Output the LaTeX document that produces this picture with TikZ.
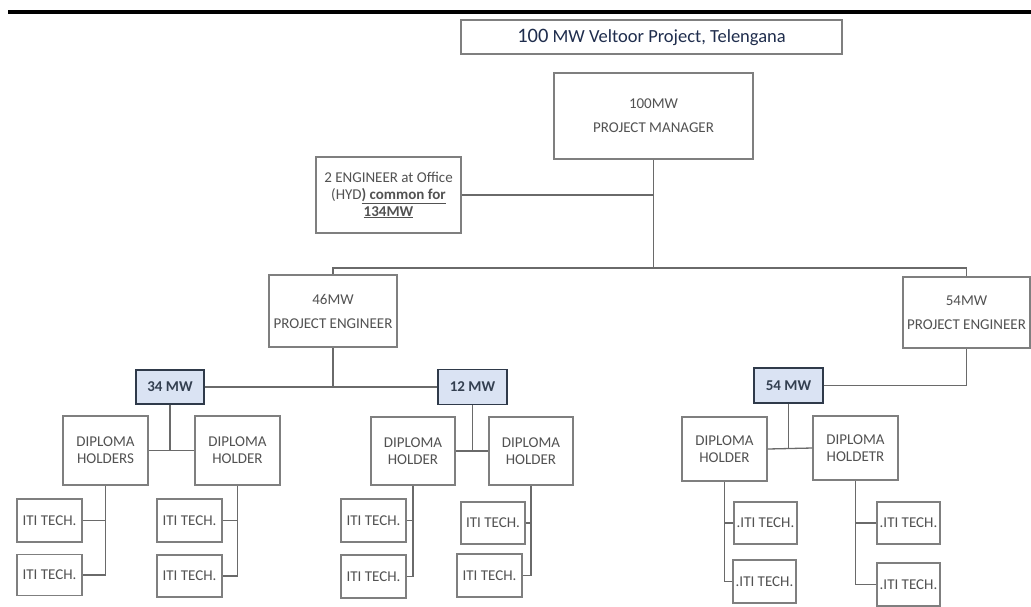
\documentclass[tikz,border=0pt]{standalone}
\usepackage{fontspec}
\setmainfont{Carlito}
\definecolor{boxgray}{HTML}{7F7F7F}
\definecolor{linegray}{HTML}{6A6A6A}
\definecolor{txtgray}{HTML}{525252}
\definecolor{titlenavy}{HTML}{1F2D4D}
\definecolor{mwfill}{HTML}{DAE3F3}
\definecolor{mwborder}{HTML}{2F3A4A}
\definecolor{mwtext}{HTML}{333F50}
\tikzset{
  box/.style={draw=boxgray, line width=1.3pt, fill=white, text=txtgray,
    align=center, inner sep=0pt, font=\fontsize{15}{17}\selectfont},
  tallbox/.style={box, font=\fontsize{15}{24}\selectfont},
  titlebox/.style={box, text=titlenavy, font=\fontsize{18.5}{22}\selectfont},
  mwbox/.style={box, fill=mwfill, draw=mwborder, text=mwtext,
    font=\fontsize{15}{17}\selectfont\bfseries},
  itibox/.style={box, minimum width=65pt, minimum height=43pt},
  dhbox/.style={box, minimum width=85pt},
  link/.style={draw=linegray, line width=1.3pt}
}
\begin{document}
\begin{tikzpicture}[x=1pt,y=-1pt]
\useasboundingbox (0,0) rectangle (1031,606);
% heading rule
\fill[black] (8,10) rectangle (1031,14);

% upper levels
\node[titlebox, minimum width=381pt, minimum height=34pt] (title) at (651.5,37)
  {{\fontsize{20.5}{22}\selectfont 100} MW Veltoor Project, Telengana};
\node[tallbox, minimum width=199pt, minimum height=86pt] (pm) at (653.5,116) {100MW\\PROJECT MANAGER};
\node[box, minimum width=145pt, minimum height=76pt] (eng) at (388.5,195)
  {2 ENGINEER at Office\\(HYD\textbf{\underline{) common for}}\\\textbf{\underline{134MW}}};
\node[tallbox, minimum width=128pt, minimum height=72pt] (pe46) at (333,311) {46MW\\PROJECT ENGINEER};
\node[tallbox, minimum width=127pt, minimum height=71pt] (pe54) at (966.5,312.5) {54MW\\PROJECT ENGINEER};

% block capacities
\node[mwbox, minimum width=68pt, minimum height=34pt] (mw34) at (170,387) {34 MW};
\node[mwbox, minimum width=69pt, minimum height=35pt] (mw12) at (472.5,387) {12 MW};
\node[mwbox, minimum width=69pt, minimum height=35pt] (mw54) at (788.5,385.5) {54 MW};

% diploma holders
\node[dhbox, minimum height=69pt] (dh1) at (105.5,450.5) {DIPLOMA\\HOLDERS};
\node[dhbox, minimum height=69pt] (dh2) at (237.5,450.5) {DIPLOMA\\HOLDER};
\node[dhbox, minimum width=84pt, minimum height=68pt] (dh3) at (413,451) {DIPLOMA\\HOLDER};
\node[dhbox, minimum width=84pt, minimum height=68pt] (dh4) at (531,451) {DIPLOMA\\HOLDER};
\node[dhbox, minimum height=64pt] (dh5) at (724.5,449) {DIPLOMA\\HOLDER};
\node[dhbox, minimum height=64pt] (dh6) at (855.5,448) {DIPLOMA\\HOLDETR};

% technicians
\node[itibox] (t1) at (49.5,520.5) {ITI TECH.};
\node[itibox, minimum height=41pt] (t2) at (49.5,575) {ITI TECH.};
\node[itibox] (t3) at (189.5,520.5) {ITI TECH.};
\node[itibox, minimum height=42pt] (t4) at (189.5,576) {ITI TECH.};
\node[itibox] (t5) at (373.5,520.5) {ITI TECH.};
\node[itibox] (t6) at (373.5,576.5) {ITI TECH.};
\node[itibox, minimum width=64pt, minimum height=42pt] (t7) at (493,523) {ITI TECH.};
\node[itibox] (t8) at (489.5,575.5) {ITI TECH.};
\node[itibox, minimum width=63pt, minimum height=42pt] (t9) at (765.5,523) {.ITI TECH.};
\node[itibox, minimum width=63pt] (t10) at (764.5,581.5) {.ITI TECH.};
\node[itibox, minimum width=63pt, minimum height=42pt] (t11) at (908.5,523) {.ITI TECH.};
\node[itibox, minimum width=63pt] (t12) at (908.5,584.5) {.ITI TECH.};

% connectors
\coordinate (bus) at (653.5,268);
\draw[link] (pm.south) -- (bus);
\draw[link] (eng.east) -- (eng.east -| pm.south);
\draw[link] (pe46.north) |- (bus) -| (pe54.north);

\draw[link] (mw34.east) -| (pe46.south);
\draw[link] (mw12.west) -| (pe46.south);
\draw[link] (mw54.east) -| (pe54.south);

\draw[link] (mw34.south) -- (mw34.south |- dh1.east);
\draw[link] (dh1.east) -- (dh2.west);
\draw[link] (mw12.south) -- (mw12.south |- dh3.east);
\draw[link] (dh3.east) -- (dh4.west);
\draw[link] (mw54.south) -- (mw54.south |- dh5.east);
\draw[link] (dh5.east) -- (dh6.west);

\draw[link] (dh1.south) |- (t2.east);
\draw[link] (t1.east) -- (t1.east -| dh1.south);
\draw[link] (dh2.south) |- (t4.east);
\draw[link] (t3.east) -- (t3.east -| dh2.south);
\draw[link] (dh3.south) |- (t6.east);
\draw[link] (t5.east) -- (t5.east -| dh3.south);
\draw[link] (dh4.south) |- (t8.east);
\draw[link] (t7.east) -- (t7.east -| dh4.south);
\draw[link] (dh5.south) |- (t10.west);
\draw[link] (t9.west) -- (t9.west -| dh5.south);
\draw[link] (dh6.south) |- (t12.west);
\draw[link] (t11.west) -- (t11.west -| dh6.south);
\end{tikzpicture}
\end{document}
